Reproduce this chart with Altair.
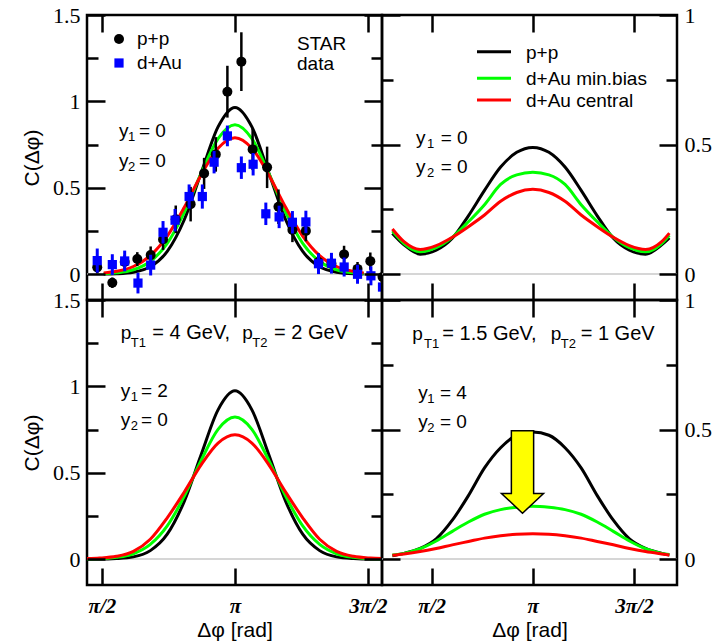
import altair as alt
import pandas as pd
import numpy as np

PI = float(np.pi)

# ---------------- values ----------------
# STAR data (top-left panel): Δφ [rad], C(Δφ), error
pp_x = [1.515, 1.693, 1.839, 1.988, 2.146, 2.292, 2.442, 2.618, 2.777, 2.915, 3.052, 3.217,
        3.350, 3.521, 3.655, 3.820, 3.979, 4.128, 4.281, 4.430, 4.589, 4.740, 4.884]
pp_y = [0.039, -0.050, 0.070, 0.087, 0.110, 0.200, 0.317, 0.405, 0.583, 0.693, 1.056, 1.230,
        0.722, 0.618, 0.390, 0.255, 0.250, 0.070, 0.060, 0.114, 0.030, 0.075, -0.016]
pp_err = [0.035, 0.030, 0.040, 0.040, 0.050, 0.060, 0.080, 0.100, 0.090, 0.100, 0.150, 0.170,
          0.120, 0.120, 0.100, 0.070, 0.060, 0.050, 0.040, 0.050, 0.040, 0.050, 0.040]
dau_x = [1.515, 1.693, 1.839, 1.996, 2.146, 2.292, 2.434, 2.600, 2.756, 2.895, 3.052, 3.217,
         3.356, 3.506, 3.663, 3.820, 3.979, 4.128, 4.281, 4.431, 4.589, 4.747, 4.884]
dau_y = [0.078, 0.055, 0.076, -0.052, 0.052, 0.242, 0.312, 0.449, 0.449, 0.648, 0.800, 0.616,
         0.636, 0.349, 0.331, 0.300, 0.302, 0.060, 0.063, 0.041, -0.001, -0.010, -0.075]
dau_err = [0.070, 0.060, 0.060, 0.060, 0.060, 0.065, 0.065, 0.070, 0.070, 0.065, 0.060, 0.065,
           0.065, 0.065, 0.065, 0.065, 0.065, 0.060, 0.060, 0.055, 0.055, 0.055, 0.060]

# curves: offsets from π and values
dxA = [-1.55, -1.4, -1.2, -1.0, -0.8, -0.6, -0.4, -0.2, 0.0, 0.2, 0.4, 0.6, 0.8, 1.0, 1.2, 1.4, 1.52]
A_pp = [0.000, 0.002, 0.011, 0.042, 0.131, 0.313, 0.585, 0.852, 0.965, 0.852, 0.585, 0.313, 0.131, 0.042, 0.011, 0.002, 0.001]
A_mb = [0.002, 0.007, 0.025, 0.073, 0.178, 0.356, 0.583, 0.784, 0.865, 0.784, 0.583, 0.356, 0.178, 0.073, 0.025, 0.007, 0.003]
A_ce = [0.006, 0.016, 0.044, 0.107, 0.220, 0.385, 0.574, 0.729, 0.790, 0.729, 0.574, 0.385, 0.220, 0.107, 0.044, 0.016, 0.007]

dxB = [-2.18, -2.0, -1.75, -1.5, -1.25, -1.0, -0.75, -0.5, -0.25, 0.0, 0.25, 0.5, 0.75, 1.0, 1.25, 1.5, 1.75, 2.0, 2.12]
B_pp = [0.157, 0.113, 0.077, 0.092, 0.138, 0.225, 0.323, 0.413, 0.470, 0.489, 0.470, 0.413, 0.323, 0.225, 0.138, 0.092, 0.077, 0.113, 0.140]
B_mb = [0.166, 0.118, 0.086, 0.102, 0.142, 0.202, 0.268, 0.346, 0.383, 0.393, 0.383, 0.346, 0.268, 0.202, 0.142, 0.102, 0.086, 0.118, 0.150]
B_ce = [0.174, 0.125, 0.095, 0.110, 0.142, 0.183, 0.228, 0.281, 0.315, 0.327, 0.315, 0.281, 0.228, 0.183, 0.142, 0.110, 0.095, 0.125, 0.158]

dxC = [-1.75, -1.6, -1.4, -1.2, -1.0, -0.8, -0.6, -0.4, -0.2, 0.0, 0.2, 0.4, 0.6, 0.8, 1.0, 1.2, 1.4, 1.6, 1.75]
C_pp = [0.000, 0.000, 0.003, 0.013, 0.049, 0.144, 0.333, 0.604, 0.864, 0.974, 0.864, 0.604, 0.333, 0.144, 0.049, 0.013, 0.003, 0.000, 0.000]
C_mb = [0.001, 0.002, 0.010, 0.031, 0.085, 0.192, 0.363, 0.571, 0.751, 0.822, 0.751, 0.571, 0.363, 0.192, 0.085, 0.031, 0.010, 0.002, 0.001]
C_ce = [0.003, 0.006, 0.016, 0.045, 0.115, 0.239, 0.387, 0.546, 0.672, 0.720, 0.672, 0.546, 0.387, 0.239, 0.115, 0.045, 0.016, 0.006, 0.003]

dxD = [-2.18, -2.0, -1.75, -1.5, -1.25, -1.0, -0.75, -0.5, -0.25, 0.0, 0.25, 0.5, 0.75, 1.0, 1.25, 1.5, 1.75, 2.0, 2.12]
D_pp = [0.013, 0.022, 0.041, 0.078, 0.150, 0.245, 0.352, 0.430, 0.478, 0.491, 0.478, 0.430, 0.352, 0.245, 0.150, 0.078, 0.041, 0.022, 0.016]
D_mb = [0.016, 0.022, 0.040, 0.070, 0.107, 0.143, 0.173, 0.191, 0.200, 0.204, 0.200, 0.191, 0.173, 0.143, 0.107, 0.070, 0.040, 0.022, 0.018]
D_ce = [0.015, 0.020, 0.029, 0.041, 0.055, 0.068, 0.081, 0.090, 0.096, 0.098, 0.096, 0.090, 0.081, 0.068, 0.055, 0.041, 0.029, 0.020, 0.016]

series_names = ["p+p", "d+Au min.bias", "d+Au central"]
series_colors = ["#000000", "#00ff00", "#ff0000"]

# ---------------- layout ----------------
W, H = 295, 285
XL = [1.394, 4.878]
XR = [0.80, 5.38]
YL = [-0.15, 1.5]
YR = [-0.1, 1.0]
XTICKS = [PI / 2, PI, 3 * PI / 2]
XLABEL = "datum.value < 2 ? 'π/2' : (datum.value < 4 ? 'π' : '3π/2')"


def px(dom, r, n):
    return dom[0] + r / n * (dom[1] - dom[0])


def py(dom, r, n):
    return dom[1] - r / n * (dom[1] - dom[0])


def panel(xdom, ydom, ymaj, ymin, dx, curves, left_lab, right_lab, bottom_lab,
          texts, extra_fn=None):
    xs = alt.Scale(domain=xdom, nice=False, zero=False)
    ys = alt.Scale(domain=ydom, nice=False, zero=False)
    X0 = dict(scale=xs, axis=None)
    Y0 = dict(scale=ys, axis=None)
    layers = []
    layers.append(
        alt.Chart(pd.DataFrame({"y": [0.0]})).mark_rule(color="#d6d6d6", strokeWidth=2)
        .encode(y=alt.Y("y:Q", **Y0))
    )
    carrier = alt.Chart(pd.DataFrame({"x": [xdom[0]], "y": [ydom[0]]})).mark_point(opacity=0)

    def yax(orient, vals, size, labels, title):
        kw = dict(orient=orient, values=vals, tickSize=size, offset=-size, domain=False,
                  grid=False, ticks=True, tickColor="black", tickWidth=2.5, labels=labels,
                  zindex=1)
        if labels:
            kw.update(labelFont="Liberation Serif", labelFontSize=22, labelColor="black",
                      labelPadding=7, format="~g")
        if title:
            kw.update(titleFont="Liberation Sans", titleFontSize=21, titleFontWeight="normal",
                      titleColor="black", titlePadding=10)
        return carrier.encode(x=alt.X("x:Q", **X0),
                              y=alt.Y("y:Q", scale=ys, axis=alt.Axis(**kw), title=title))

    def xax(orient, size, labels, title):
        kw = dict(orient=orient, values=XTICKS, tickSize=size, offset=-size, domain=False,
                  grid=False, ticks=True, tickColor="black", tickWidth=2.5, labels=labels,
                  zindex=1)
        if labels:
            kw.update(labelFont="Liberation Serif", labelFontSize=21, labelColor="black",
                      labelFontStyle="italic", labelFontWeight="bold", labelPadding=10,
                      labelExpr=XLABEL)
        if title:
            kw.update(titleFont="Liberation Sans", titleFontSize=21, titleFontWeight="normal",
                      titleColor="black", titlePadding=3)
        return carrier.encode(y=alt.Y("y:Q", **Y0),
                              x=alt.X("x:Q", scale=xs, axis=alt.Axis(**kw), title=title))

    layers.append(yax("left", ymaj, 18, left_lab, "C(Δφ)" if left_lab else ""))
    layers.append(yax("left", ymin, 11, False, ""))
    layers.append(yax("right", ymaj, 18, right_lab, ""))
    layers.append(yax("right", ymin, 11, False, ""))
    layers.append(xax("bottom", 17, bottom_lab, "Δφ [rad]" if bottom_lab else ""))
    layers.append(xax("top", 17, False, ""))

    for vals, color in zip(curves, series_colors):
        df = pd.DataFrame({"x": [PI + d for d in dx], "y": vals})
        layers.append(
            alt.Chart(df).mark_line(color=color, strokeWidth=3, interpolate="monotone", clip=True)
            .encode(x=alt.X("x:Q", **X0), y=alt.Y("y:Q", **Y0))
        )
    if extra_fn is not None:
        layers.extend(extra_fn(xs, ys))

    tdf = pd.DataFrame({
        "x": [px(xdom, t[1], W) for t in texts],
        "y": [py(ydom, t[2], H) for t in texts],
        "t": [t[0] for t in texts],
        "fs": [t[3] for t in texts],
    })
    layers.append(
        alt.Chart(tdf).mark_text(align="left", baseline="middle", font="Liberation Sans",
                                 color="black")
        .encode(x=alt.X("x:Q", **X0), y=alt.Y("y:Q", **Y0), text="t:N",
                size=alt.Size("fs:Q", scale=None))
    )
    return alt.layer(*layers).properties(width=W, height=H).resolve_axis(
        x="independent", y="independent")


def data_layers(xs, ys):
    X0 = dict(scale=xs, axis=None)
    Y0 = dict(scale=ys, axis=None)
    pp = pd.DataFrame({"x": pp_x, "y": pp_y,
                       "lo": [a - b for a, b in zip(pp_y, pp_err)],
                       "hi": [a + b for a, b in zip(pp_y, pp_err)]})
    da = pd.DataFrame({"x": dau_x, "y": dau_y,
                       "lo": [a - b for a, b in zip(dau_y, dau_err)],
                       "hi": [a + b for a, b in zip(dau_y, dau_err)]})
    out = []
    out.append(alt.Chart(pp).mark_rule(color="black", strokeWidth=2.5, clip=True).encode(
        x=alt.X("x:Q", **X0), y=alt.Y("lo:Q", **Y0), y2="hi:Q"))
    out.append(alt.Chart(pp).mark_point(shape="circle", filled=True, color="black", size=100,
                                        opacity=1, clip=True).encode(
        x=alt.X("x:Q", **X0), y=alt.Y("y:Q", **Y0)))
    out.append(alt.Chart(da).mark_rule(color="#0000ff", strokeWidth=3, clip=True).encode(
        x=alt.X("x:Q", **X0), y=alt.Y("lo:Q", **Y0), y2="hi:Q"))
    out.append(alt.Chart(da).mark_point(shape="square", filled=True, color="#0000ff", size=85,
                                        opacity=1, clip=True).encode(
        x=alt.X("x:Q", **X0), y=alt.Y("y:Q", **Y0)))
    # legend symbols
    l1 = pd.DataFrame({"x": [px(XL, 32, W)], "y": [py(YL, 24, H)]})
    l2 = pd.DataFrame({"x": [px(XL, 32, W)], "y": [py(YL, 48, H)]})
    out.append(alt.Chart(l1).mark_point(shape="circle", filled=True, color="black", size=100,
                                        opacity=1).encode(x=alt.X("x:Q", **X0), y=alt.Y("y:Q", **Y0)))
    out.append(alt.Chart(l2).mark_point(shape="square", filled=True, color="#0000ff", size=85,
                                        opacity=1).encode(x=alt.X("x:Q", **X0), y=alt.Y("y:Q", **Y0)))
    return out


def legend_lines(xs, ys):
    X0 = dict(scale=xs, axis=None)
    Y0 = dict(scale=ys, axis=None)
    out = []
    for r, color in zip((36.7, 63.3, 85.0), series_colors):
        df = pd.DataFrame({"x": [px(XR, 95, W)], "x2": [px(XR, 129, W)], "y": [py(YR, r, H)]})
        out.append(alt.Chart(df).mark_rule(strokeWidth=3, color=color).encode(
            x=alt.X("x:Q", **X0), x2="x2:Q", y=alt.Y("y:Q", **Y0)))
    return out


ARROW = "M -0.27 -1 L 0.27 -1 L 0.27 0.52 L 0.51 0.52 L 0 1 L -0.51 0.52 L -0.27 0.52 Z"


def arrow(xs, ys):
    df = pd.DataFrame({"x": [px(XR, 140.5, W)], "y": [py(YR, 172.0, H)]})
    return [alt.Chart(df).mark_point(shape=ARROW, size=6800, fill="#ffff00", fillOpacity=1,
                                     stroke="black", strokeWidth=1.5, opacity=1).encode(
        x=alt.X("x:Q", scale=xs, axis=None), y=alt.Y("y:Q", scale=ys, axis=None))]


S, s = 19, 13
tl_texts = [("p+p", 50, 24, S), ("d+Au", 50, 48, S), ("STAR", 210, 29, S), ("data", 210, 49, S),
            ("y", 32, 116, S), ("1", 41, 122, s), ("= 0", 52, 116, S),
            ("y", 32, 145.5, S), ("2", 41, 152, s), ("= 0", 52, 145.5, S)]
tr_texts = [("p+p", 144, 37.5, S), ("d+Au min.bias", 144, 63.5, S), ("d+Au central", 144, 85.5, S),
            ("y", 34, 122.5, S), ("1", 45, 128.5, s), ("= 0", 58.7, 122.5, S),
            ("y", 34, 151.7, S), ("2", 45, 158, s), ("= 0", 58.7, 151.7, S)]
bl_texts = [("p", 33.7, 33.3, S), ("T1", 43.7, 43, s), ("= 4 GeV,", 65.3, 33.3, 20),
            ("p", 155.3, 33.3, S), ("T2", 165.3, 43, s), ("= 2 GeV", 187, 33.3, 20),
            ("y", 33.7, 91, S), ("1", 43.7, 97, s), ("= 2", 54, 91, S),
            ("y", 33.7, 120, S), ("2", 43.7, 126, s), ("= 0", 54, 120, S)]
br_texts = [("p", 30.3, 34, S), ("T1", 42, 44, s), ("= 1.5 GeV,", 60.3, 34, 20),
            ("p", 168.7, 34, S), ("T2", 178.7, 44, s), ("= 1 GeV", 198.7, 34, 20),
            ("y", 36.3, 93.3, S), ("1", 45.3, 99.3, s), ("= 4", 58, 93.3, S),
            ("y", 36.3, 121.7, S), ("2", 45.3, 127.7, s), ("= 0", 58, 121.7, S)]

YMAJ_L, YMIN_L = [0, 0.5, 1, 1.5], [0.25, 0.75, 1.25]
YMAJ_R, YMIN_R = [0, 0.5, 1], [0.25, 0.75]

tl = panel(XL, YL, YMAJ_L, YMIN_L, dxA, [A_pp, A_mb, A_ce], True, False, False, tl_texts, data_layers)
tr = panel(XR, YR, YMAJ_R, YMIN_R, dxB, [B_pp, B_mb, B_ce], False, True, False, tr_texts, legend_lines)
bl = panel(XL, YL, YMAJ_L, YMIN_L, dxC, [C_pp, C_mb, C_ce], True, False, True, bl_texts)
br = panel(XR, YR, YMAJ_R, YMIN_R, dxD, [D_pp, D_mb, D_ce], False, True, True, br_texts, arrow)

chart = alt.concat(tl, tr, bl, br, columns=2, spacing=0, bounds="flush").properties(
    padding={"left": 20, "top": 2, "right": 4, "bottom": 4}
).configure_view(stroke="black", strokeWidth=2.5)

chart.save("out.html", embed_options={"renderer": "svg", "actions": False})
